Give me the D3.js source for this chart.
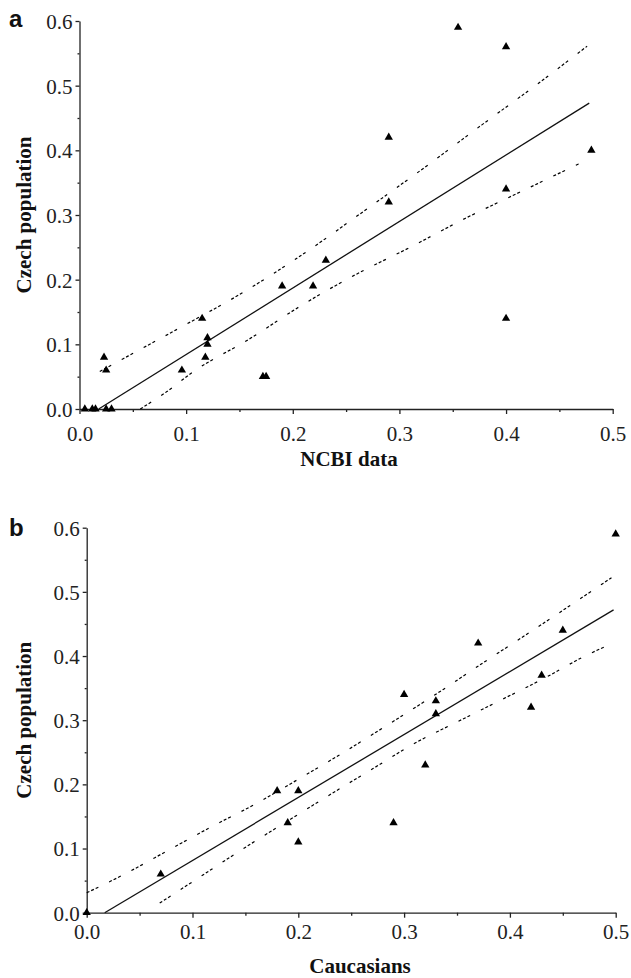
<!DOCTYPE html>
<html>
<head>
<meta charset="utf-8">
<script src="https://cdnjs.cloudflare.com/ajax/libs/d3/7.8.5/d3.min.js"></script>
<style>
  html, body { margin: 0; padding: 0; background: #fff; }
  svg { display: block; }
</style>
</head>
<body>
<svg id="chart" width="631" height="978"></svg>
<script>
// ============= Data =============
// tick labels (shared by both panels)
const xTicks = [0.0, 0.1, 0.2, 0.3, 0.4, 0.5];
const yTicks = [0.0, 0.1, 0.2, 0.3, 0.4, 0.5, 0.6];
const xMinor = [0.05, 0.15, 0.25, 0.35, 0.45];
const yMinor = [0.05, 0.15, 0.25, 0.35, 0.45, 0.55];

// panel a: NCBI data vs Czech population
const ncbiX  = [0.005, 0.012, 0.015, 0.025, 0.03, 0.023, 0.025, 0.096, 0.115, 0.12, 0.12, 0.118,
                0.172, 0.175, 0.19, 0.219, 0.231, 0.29, 0.29, 0.355, 0.40, 0.40, 0.40, 0.48];
const czechA = [0.0, 0.0, 0.0, 0.0, 0.0, 0.08, 0.06, 0.06, 0.14, 0.11, 0.10, 0.08,
                0.05, 0.05, 0.19, 0.19, 0.23, 0.42, 0.32, 0.59, 0.56, 0.34, 0.14, 0.40];
const fitA   = [[0.018, 0.0], [0.478, 0.473]];
const upperA = [[0.019, 0.058], [0.049, 0.085], [0.099, 0.130], [0.149, 0.176], [0.201, 0.230],
                [0.276, 0.317], [0.329, 0.380], [0.377, 0.439], [0.429, 0.502], [0.476, 0.561]];
const lowerA = [[0.057, 0.0], [0.082, 0.027], [0.107, 0.058], [0.158, 0.107], [0.210, 0.162],
                [0.258, 0.207], [0.310, 0.250], [0.362, 0.295], [0.410, 0.333], [0.468, 0.379]];

// panel b: Caucasians vs Czech population
const caucX  = [0.0, 0.07, 0.18, 0.20, 0.19, 0.20, 0.29, 0.32, 0.30, 0.33, 0.33, 0.37, 0.42, 0.43, 0.45, 0.50];
const czechB = [0.0, 0.06, 0.19, 0.19, 0.14, 0.11, 0.14, 0.23, 0.34, 0.33, 0.31, 0.42, 0.32, 0.37, 0.44, 0.59];
const fitB   = [[0.017, 0.0], [0.498, 0.472]];
const upperB = [[0.0, 0.031], [0.038, 0.062], [0.079, 0.099], [0.118, 0.134], [0.159, 0.169],
                [0.199, 0.207], [0.239, 0.246], [0.279, 0.287], [0.337, 0.348], [0.377, 0.392],
                [0.417, 0.435], [0.458, 0.480], [0.496, 0.522]];
const lowerB = [[0.069, 0.015], [0.111, 0.060], [0.151, 0.103], [0.191, 0.144], [0.232, 0.186],
                [0.271, 0.225], [0.310, 0.264], [0.351, 0.298], [0.391, 0.331], [0.432, 0.365],
                [0.471, 0.400], [0.496, 0.419]];

const serif = "'Liberation Serif', 'Times New Roman', Times, serif";
const svg = d3.select('#chart');

// style the d3 axis output (d3 puts its own font attrs on the group)
function styleAxis(sel){
  sel.attr('font-family', null).attr('font-size', null);
  sel.selectAll('.domain, .tick line').attr('stroke', '#222').attr('stroke-width', 1.3);
  sel.selectAll('.tick text')
    .attr('fill', '#222')
    .style('font-family', serif)
    .style('font-size', '21px');
}

// ============= Panel =============
function drawPanel(p){
  const x = d3.scaleLinear().domain([0, 0.5]).range([p.left, p.right]);
  const y = d3.scaleLinear().domain([0, 0.6]).range([p.bottom, p.top]);
  const g = svg.append('g');

  // minor ticks
  g.append('g')
    .attr('transform', 'translate(0,' + p.bottom + ')')
    .call(d3.axisBottom(x).tickValues(xMinor).tickSize(3).tickFormat(''))
    .call(styleAxis)
    .call(s => s.select('.domain').remove());
  g.append('g')
    .attr('transform', 'translate(' + p.left + ',0)')
    .call(d3.axisLeft(y).tickValues(yMinor).tickSize(2).tickFormat(''))
    .call(styleAxis)
    .call(s => s.select('.domain').remove());

  // major axes
  const xAxis = g.append('g')
    .attr('transform', 'translate(0,' + p.bottom + ')')
    .call(d3.axisBottom(x).tickValues(xTicks).tickSize(5).tickSizeOuter(0).tickFormat(d3.format('.1f')))
    .call(styleAxis);
  xAxis.selectAll('.tick text').attr('y', p.xLabelDy).attr('dy', '0.35em');

  const yAxis = g.append('g')
    .attr('transform', 'translate(' + p.left + ',0)')
    .call(d3.axisLeft(y).tickValues(yTicks).tickSize(4).tickSizeOuter(0).tickFormat(d3.format('.1f')))
    .call(styleAxis);
  yAxis.selectAll('.tick text').attr('x', -7).attr('dy', '0.35em');

  // confidence bands
  const line = d3.line().x(d => x(d[0])).y(d => y(d[1])).curve(d3.curveMonotoneX);
  [p.upper, p.lower].forEach(band => {
    g.append('path')
      .datum(band)
      .attr('d', line)
      .attr('fill', 'none')
      .attr('stroke', '#000')
      .attr('stroke-width', 1.2)
      .attr('stroke-dasharray', '3,2,3,2,3,12');
  });

  // regression line
  g.append('path')
    .datum(p.fit)
    .attr('d', d3.line().x(d => x(d[0])).y(d => y(d[1])))
    .attr('fill', 'none')
    .attr('stroke', '#111')
    .attr('stroke-width', 1.3);

  // points
  g.selectAll('.pt')
    .data(d3.zip(p.xs, p.ys))
    .enter()
    .append('path')
    .attr('class', 'pt')
    .attr('d', d3.symbol().type(d3.symbolTriangle).size(30))
    .attr('transform', d => 'translate(' + x(d[0]) + ',' + y(d[1]) + ')')
    .attr('fill', '#000');

  // titles
  g.append('text')
    .attr('x', p.xTitleX)
    .attr('y', p.xTitleY)
    .attr('text-anchor', 'middle')
    .style('font-family', serif)
    .style('font-size', '21px')
    .style('font-weight', 'bold')
    .attr('fill', '#111')
    .text(p.xTitle);

  g.append('text')
    .attr('transform', 'translate(31,' + (p.top + p.bottom) / 2 + ') rotate(-90)')
    .attr('text-anchor', 'middle')
    .style('font-family', serif)
    .style('font-size', '21px')
    .style('font-weight', 'bold')
    .attr('fill', '#111')
    .text('Czech population');

  g.append('text')
    .attr('x', 9)
    .attr('y', p.labelY)
    .style('font-family', "'Liberation Sans', Arial, sans-serif")
    .style('font-size', '24px')
    .style('font-weight', 'bold')
    .attr('fill', '#111')
    .text(p.label);
}

drawPanel({
  label: 'a', labelY: 27,
  left: 79.5, right: 612.7, top: 21, bottom: 409,
  xs: ncbiX, ys: czechA, fit: fitA, upper: upperA, lower: lowerA,
  xTitle: 'NCBI data', xTitleX: 349, xTitleY: 466, xLabelDy: 25
});

drawPanel({
  label: 'b', labelY: 536,
  left: 86.7, right: 615.7, top: 527.7, bottom: 912.7,
  xs: caucX, ys: czechB, fit: fitB, upper: upperB, lower: lowerB,
  xTitle: 'Caucasians', xTitleX: 360, xTitleY: 973, xLabelDy: 19
});
</script>
</body>
</html>
